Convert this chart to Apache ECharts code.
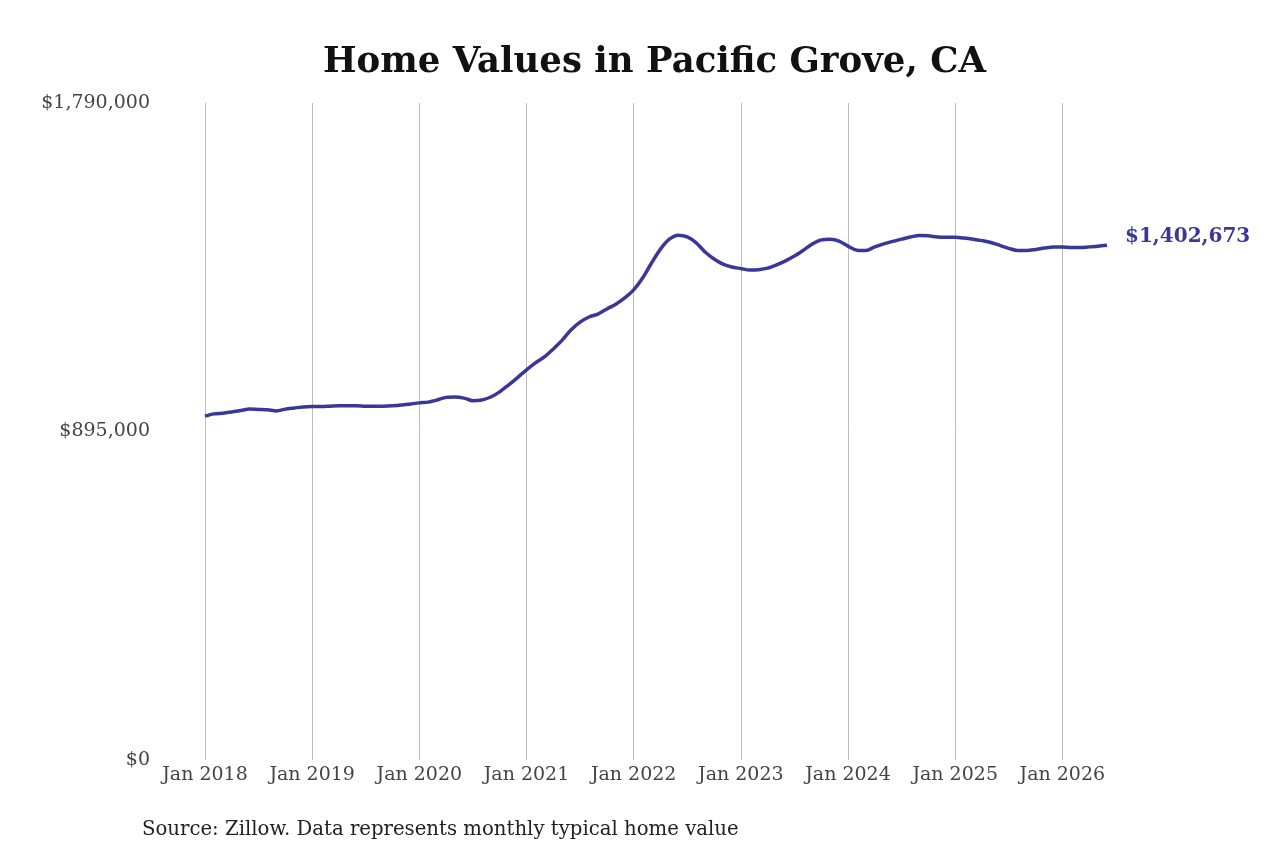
<!DOCTYPE html>
<html>
<head>
<meta charset="utf-8">
<title>Home Values in Pacific Grove, CA</title>
<script src="https://cdn.jsdelivr.net/npm/echarts@6/dist/echarts.min.js"></script>
<style>
  html, body { margin: 0; padding: 0; background: #fff; }
  #chart { width: 1280px; height: 853px; }
</style>
</head>
<body>
<div id="chart"></div>
<script>
// monthly typical home value, Jan 2018 .. Jun 2026
var years = [2018, 2019, 2020, 2021, 2022, 2023, 2024, 2025, 2026];
var monthNames = ['Jan', 'Feb', 'Mar', 'Apr', 'May', 'Jun', 'Jul', 'Aug', 'Sep', 'Oct', 'Nov', 'Dec'];

var values2018 = [937000, 943000, 945000, 948000, 952000, 956000, 955000, 954000, 951000, 956000, 959000, 962000];
var values2019 = [963000, 963000, 964000, 965000, 965000, 965000, 964000, 964000, 964000, 965000, 967000, 970000];
var values2020 = [973000, 975000, 981000, 988000, 989000, 986000, 979000, 981000, 989000, 1003000, 1022000, 1042000];
var values2021 = [1063000, 1082000, 1098000, 1120000, 1144000, 1172000, 1193000, 1207000, 1215000, 1229000, 1242000, 1259000];
var values2022 = [1281000, 1313000, 1354000, 1392000, 1419000, 1430000, 1425000, 1409000, 1384000, 1365000, 1351000, 1343000];
var values2023 = [1339000, 1335000, 1336000, 1340000, 1349000, 1360000, 1373000, 1389000, 1406000, 1417000, 1419000, 1414000];
var values2024 = [1400000, 1389000, 1388000, 1398000, 1406000, 1413000, 1419000, 1425000, 1429000, 1428000, 1425000, 1424000];
var values2025 = [1424000, 1422000, 1419000, 1415000, 1410000, 1402000, 1394000, 1388000, 1388000, 1391000, 1395000, 1398000];
var values2026 = [1398000, 1396000, 1396000, 1398000, 1400000, 1402673];

var yTicks = [0, 895000, 1790000];

var allValues = [].concat(values2018, values2019, values2020, values2021, values2022,
  values2023, values2024, values2025, values2026);

var months = [];
for (var i = 0; i < allValues.length; i++) {
  months.push(monthNames[i % 12] + ' ' + years[Math.floor(i / 12)]);
}

function isJan(idx) { return idx % 12 === 0; }

var lineColor = '#3b3799';
var font = 'DejaVu Serif';

var chart = echarts.init(document.getElementById('chart'));
chart.setOption({
  backgroundColor: '#fff',
  animation: false,
  title: [{
    text: 'Home Values in Pacific Grove, CA',
    left: 318,
    top: 40,
    textStyle: { fontFamily: font, fontWeight: 'bold', fontSize: 35.5, color: '#111' }
  }, {
    text: 'Source: Zillow. Data represents monthly typical home value',
    left: 137,
    top: 815,
    textStyle: { fontFamily: font, fontWeight: 'normal', fontSize: 19.7, color: '#222' }
  }],
  grid: { left: 205, right: 173, top: 103, bottom: 93 },
  xAxis: {
    type: 'category',
    boundaryGap: false,
    data: months,
    axisLine: { show: false },
    axisTick: { show: false },
    axisLabel: {
      interval: function (idx) { return isJan(idx); },
      fontFamily: font, fontSize: 19, color: '#444', margin: 6
    },
    splitLine: {
      show: true,
      interval: function (idx) { return isJan(idx); },
      lineStyle: { color: '#bdbdbd', width: 1 }
    }
  },
  yAxis: {
    type: 'value',
    min: yTicks[0],
    max: yTicks[yTicks.length - 1],
    interval: yTicks[1] - yTicks[0],
    axisLine: { show: false },
    axisTick: { show: false },
    splitLine: { show: false },
    axisLabel: {
      margin: 55,
      fontFamily: font, fontSize: 19, color: '#444',
      formatter: function (v) { return '$' + v.toLocaleString('en-US'); }
    }
  },
  series: [{
    type: 'line',
    data: allValues,
    smooth: 0.3,
    symbol: 'none',
    lineStyle: { color: lineColor, width: 3.5 },
    endLabel: {
      show: true,
      distance: 18,
      offset: [0, -8],
      fontFamily: font, fontWeight: 'bold', fontSize: 20, color: lineColor,
      formatter: function (p) { return '$' + p.value.toLocaleString('en-US'); }
    }
  }]
});
</script>
</body>
</html>
